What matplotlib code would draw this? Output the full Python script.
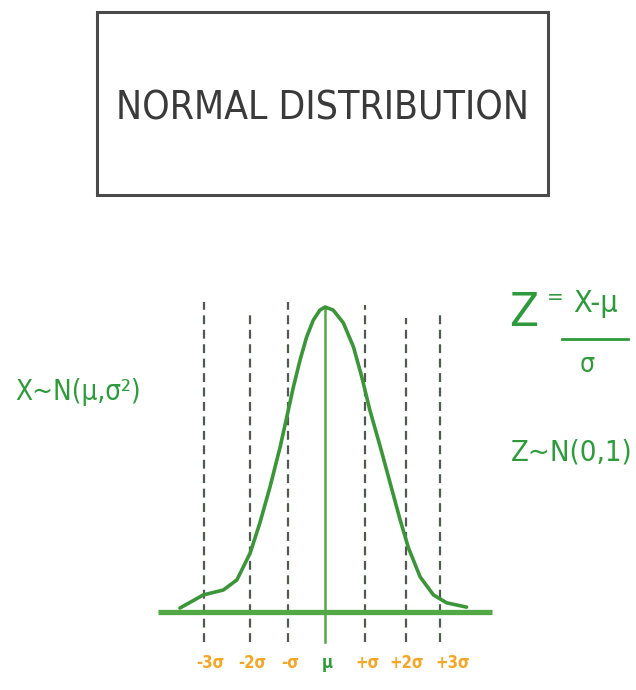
import matplotlib.pyplot as plt
from matplotlib.patches import Rectangle

# hand-drawn bell curve, x in units of sigma, height relative to the peak
curve_x = [-3.72, -3.12, -2.61, -2.26, -1.92, -1.67, -1.41, -1.15, -0.98, -0.81,
           -0.64, -0.47, -0.30, -0.13, 0.0, 0.21, 0.47, 0.73, 0.94, 1.15,
           1.41, 1.67, 1.92, 2.14, 2.44, 2.78, 3.12, 3.63]
curve_y = [0.013, 0.056, 0.072, 0.105, 0.193, 0.292, 0.410, 0.541, 0.639, 0.738,
           0.826, 0.902, 0.957, 0.990, 1.0, 0.990, 0.948, 0.869, 0.772, 0.662,
           0.545, 0.423, 0.305, 0.210, 0.115, 0.056, 0.030, 0.016]

# dashed sigma guides (where they were drawn) and how high each one reaches
sigma_pos = [-3.10, -1.92, -0.95, 1.03, 2.08, 2.95]
sigma_top = [1.016, 0.990, 1.016, 1.007, 0.964, 0.974]

tick_labels = ['-3σ', '-2σ', '-σ', 'μ', '+σ', '+2σ', '+3σ']
tick_pos = [-2.95, -1.87, -0.90, 0.05, 1.08, 2.10, 3.28]

GREEN = '#3d953a'
BASE_GREEN = '#52a845'
TEXT_GREEN = '#2f9a3c'
ORANGE = '#f2a72a'
GRAY = '#4a4a4a'
FONT = ['DejaVu Sans']

W, H = 636, 690
fig = plt.figure(figsize=(W / 100, H / 100), dpi=100)

# overlay in pixel units for the title box and the formulas
ov = fig.add_axes([0, 0, 1, 1])
ov.set_xlim(0, W)
ov.set_ylim(H, 0)
ov.axis('off')

ov.add_patch(Rectangle((97, 12), 451, 183, fill=False, ec=GRAY, lw=2.2))
ov.text(322, 108, 'NORMAL DISTRIBUTION', ha='center', va='center',
        fontsize=28, color='#3a3a3a', family=FONT, fontstretch='condensed')

txt = dict(ha='center', va='center', color=TEXT_GREEN, family=FONT,
           fontstretch='condensed')
ov.text(78, 392, 'X~N(μ,σ²)', fontsize=20, **txt)

ov.text(524, 314, 'Z', fontsize=34, **txt)
ov.text(555, 298, '=', fontsize=16, **txt)
ov.text(596, 304, 'X-μ', fontsize=22, **txt)
ov.plot([562, 628], [339, 339], color=TEXT_GREEN, lw=2)
ov.text(587, 365, 'σ', fontsize=19, **txt)

ov.text(572, 452, 'Z~N(0,1)', fontsize=21, **txt)

# chart axes: 39 px per sigma, 305 px from baseline to peak, mean at x=325
px_sigma, px_unit = 39, 305
xlo, xhi, ylo, yhi = -4.5, 4.5, -0.25, 1.1
left = 325 + xlo * px_sigma
bottom = 612 - ylo * px_unit
ax = fig.add_axes([left / W, (H - bottom) / H,
                   (xhi - xlo) * px_sigma / W, (yhi - ylo) * px_unit / H])
ax.set_xlim(xlo, xhi)
ax.set_ylim(ylo, yhi)
ax.axis('off')

for x, top in zip(sigma_pos, sigma_top):
    ax.plot([x, x], [-0.098, top], color='#505a50', lw=1.6, dashes=(4, 2.5))

ax.plot([0, 0], [-0.098, 1.0], color=BASE_GREEN, lw=1.8)
ax.plot([-4.28, 4.28], [0, 0], color=BASE_GREEN, lw=3.8,
        solid_capstyle='butt')
ax.plot(curve_x, curve_y, color=GREEN, lw=2.6, solid_joinstyle='round',
        solid_capstyle='round')

for lab, x in zip(tick_labels, tick_pos):
    ax.text(x, -0.167, lab, ha='center', va='center', fontsize=12,
            fontweight='bold', family=FONT, fontstretch='condensed',
            color=TEXT_GREEN if lab == 'μ' else ORANGE)

fig.savefig('out.png', dpi=100)
